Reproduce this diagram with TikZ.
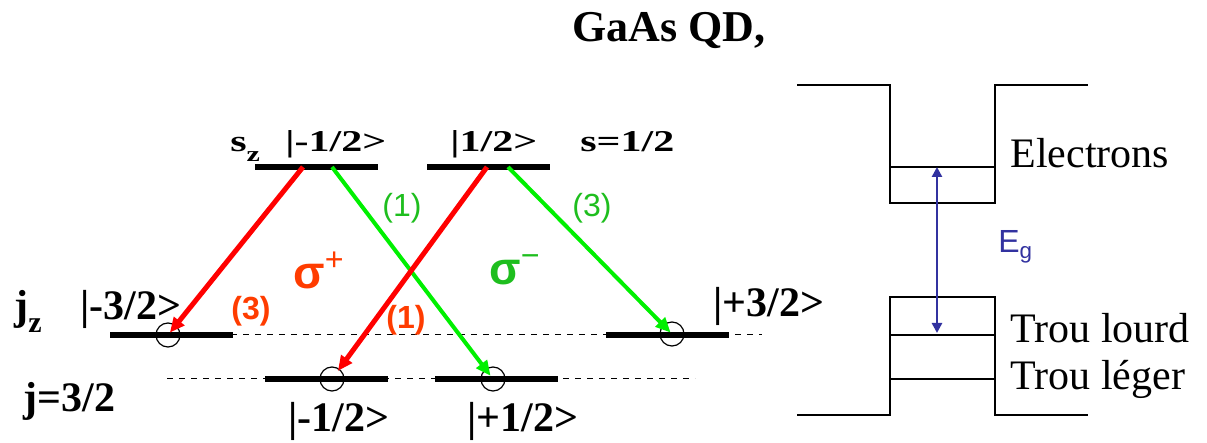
\documentclass[tikz,border=0pt]{standalone}
\usepackage{fontspec}
\setmainfont{Liberation Serif}
\setsansfont{Liberation Sans}
\usetikzlibrary{arrows.meta}
\definecolor{arrred}{RGB}{255,0,0}
\definecolor{arrgreen}{RGB}{0,240,0}
\definecolor{lblgreen}{RGB}{30,190,30}
\definecolor{lblorange}{RGB}{255,60,0}
\definecolor{gapblue}{RGB}{50,50,160}
\newcommand{\squash}[1]{\scalebox{1}[0.72]{#1}}

\begin{document}
\begin{tikzpicture}[x=0.5pt, y=-0.5pt,
    lvl/.style={fill=black, inner sep=0pt, minimum height=2.6pt, minimum width=61.5pt},
    hole/.style={draw, circle, inner sep=0pt, minimum size=12pt, line width=0.6pt},
    ket/.style={font=\fontsize{21}{23}\selectfont\bfseries, inner sep=0pt, anchor=base west},
    wlabel/.style={font=\fontsize{21}{23}\selectfont, inner sep=0pt, anchor=base west},
    num/.style={font=\fontsize{16}{18}\sffamily, inner sep=0pt},
    boldnum/.style={font=\fontsize{16}{18}\sffamily\bfseries, inner sep=0pt},
    well/.style={line width=1.2pt, line join=miter},
    redarr/.style={-{Triangle[length=7.5pt,width=6.5pt]}, arrred, line width=2.5pt},
    greenarr/.style={-{Triangle[length=7.5pt,width=6.5pt]}, arrgreen, line width=2pt}]
    \useasboundingbox (0,0) rectangle (1207,443);

    % spin levels
    \draw[dashed, line width=0.5pt] (171,335) -- (762,335) coordinate (dashend1);
    \draw[dashed, line width=0.5pt] (167,379) coordinate (dashstart2) -- (695,379);
    \node[lvl] (sdn) at (316.5,167) {};
    \node[lvl] (sup) at (488.5,167) {};
    \node[lvl] (jm3) at (171.5,335) {};
    \node[lvl] (jp3) at (667.5,335) {};
    \node[lvl] (jm1) at (326.5,379) {};
    \node[lvl] (jp1) at (496.5,379) {};
    \node[hole] (h1) at (168,335) {};
    \node[hole] (h2) at (332,379) {};
    \node[hole] (h3) at (493,379) {};
    \node[hole] (h4) at (672,334) {};

    % transitions
    \coordinate (r1) at (303,167);
    \coordinate (g1) at (332,167);
    \coordinate (r2) at (487,167);
    \coordinate (g2) at (508,167);
    \draw[redarr, shorten >=1.5pt] (r1) -- (h1.center);
    \draw[greenarr, shorten >=2pt] (g1) -- (h3.center);
    \draw[redarr, shorten >=5pt] (r2) -- (h2.center);
    \draw[greenarr, shorten >=1pt] (g2) -- (h4.center);

    \node[num, lblgreen] (n1) at (402,208) {(1)};
    \node[num, lblgreen] (n3) at (592,208) {(3)};
    \node[boldnum, lblorange] (m3) at (251,311) {(3)};
    \node[boldnum, lblorange] (m1) at (406,320) {(1)};
    \node[lblorange, font=\fontsize{23}{25}\sffamily\bfseries, inner sep=0pt] (sp) at (319,270) {σ\textsuperscript{\mdseries+}};
    \node[lblgreen, font=\fontsize{23}{25}\sffamily\bfseries, inner sep=0pt] (sm) at (515,270) {σ\textsuperscript{\mdseries−}};

    % labels
    \node[ket, font=\fontsize{22}{24}\selectfont\bfseries] (title) at (572,42) {GaAs QD,};
    \node[ket] (sz) at (230,152) {\squash{s\raisebox{-0.3em}{\fontsize{15}{15}\selectfont z}}};
    \node[ket] (ksdn) at (285,152) {\squash{|-1/2>}};
    \node[ket] (ksup) at (450,152) {\squash{|1/2>}};
    \node[ket] (spin) at (580,152) {\squash{s=1/2}};
    \node[ket] (jz) at (14,320) {j\raisebox{-0.3em}{\fontsize{15}{15}\selectfont z}};
    \node[ket] (kjm3) at (80,320) {|-3/2>};
    \node[ket] (kjp3) at (713,317) {|+3/2>};
    \node[ket] (jtot) at (23,412) {j=3/2};
    \node[ket] (kjm1) at (288,432) {|-1/2>};
    \node[ket] (kjp1) at (467,432) {|+1/2>};

    % quantum well
    \draw[well] (797,85) -- (890,85) -- (890,203) -- (995,203) -- (995,85) -- (1088,85);
    \draw[well] (797,415) -- (890,415) -- (890,297) -- (995,297) -- (995,415) -- (1088,415);
    \draw[well] (890,167) -- (995,167);
    \draw[well] (890,335) -- (995,335);
    \draw[well] (890,379) -- (995,379);
    \coordinate (elev) at (937,167);
    \coordinate (hlev) at (937,333);
    \draw[{Triangle[length=5pt,width=5pt]}-{Triangle[length=5pt,width=5pt]}, gapblue, line width=1.4pt] (elev) -- (hlev);
    \node[gapblue, font=\fontsize{16}{18}\sffamily, inner sep=0pt, anchor=base west] (eg) at (998,253) {E\textsubscript{g}};
    \node[wlabel] (elec) at (1010,168) {Electrons};
    \node[wlabel] (lourd) at (1010,343) {Trou lourd};
    \node[wlabel] (leger) at (1010,390) {Trou léger};
\end{tikzpicture}
\end{document}
